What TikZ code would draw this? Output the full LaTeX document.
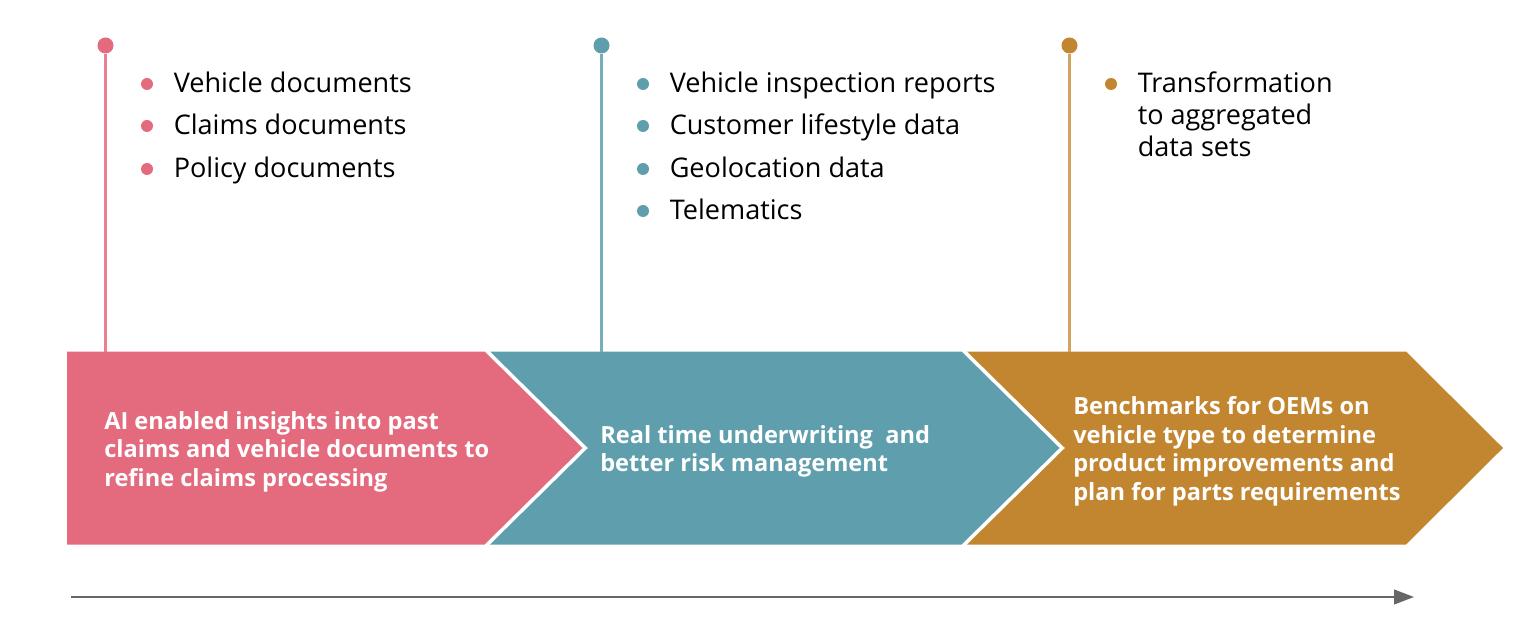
\documentclass[tikz,border=0pt]{standalone}
\usepackage{fontspec}
\setmainfont{Open Sans}
\definecolor{rosebar}{HTML}{E46A7E}
\definecolor{tealbar}{HTML}{5F9FAD}
\definecolor{goldbar}{HTML}{C28631}
\definecolor{axisgray}{HTML}{666666}
\usetikzlibrary{arrows.meta}
\begin{document}
\begin{tikzpicture}[x=0.75pt, y=-0.75pt,
	pin/.style={circle, inner sep=0pt, minimum size=12pt},
	dot/.style={circle, inner sep=0pt, minimum size=9pt},
	stem/.style={line width=2pt},
	item/.style={anchor=base west, inner sep=0pt, text=black, font=\fontsize{20.3}{24}\selectfont},
	bartext/.style={anchor=west, inner sep=0pt, align=left, text=white, font=\bfseries\fontsize{17.7}{21.4}\selectfont}]
	\useasboundingbox (0,0) rectangle (1540,634);
	% bars
	\fill[rosebar] (67,351.5) -- (484.5,351.5) -- (582.5,448) -- (484.5,544.5) -- (67,544.5) -- cycle;
	\fill[tealbar] (490,351.5) -- (961.5,351.5) -- (1059.5,448) -- (961.5,544.5) -- (490,544.5) -- (588,448) -- cycle;
	\fill[goldbar] (967,351.5) -- (1406,351.5) -- (1503,448) -- (1406,544.5) -- (967,544.5) -- (1065,448) -- cycle;
	\node[bartext] (rosetext) at (104,451.5) {AI enabled insights into past\\claims and vehicle documents to\\refine claims processing};
	\node[bartext] (tealtext) at (600,451.5) {Real time underwriting \ and\\better risk management};
	\node[bartext] (goldtext) at (1073,451.5) {Benchmarks for OEMs on\\vehicle type to determine\\product improvements and\\plan for parts requirements};
	% stems
	\coordinate (rosefoot) at (105.5,351.5);
	\coordinate (tealfoot) at (601.5,351.5);
	\coordinate (goldfoot) at (1069.5,351.5);
	\node[pin, fill=rosebar] (rosepin) at (105.5,45.5) {};
	\node[pin, fill=tealbar] (tealpin) at (601.5,45.5) {};
	\node[pin, fill=goldbar] (goldpin) at (1069.5,45.5) {};
	\draw[stem, rosebar!85!white] (rosepin) -- (rosefoot);
	\draw[stem, tealbar!85!white] (tealpin) -- (tealfoot);
	\draw[stem, goldbar!75!white] (goldpin) -- (goldfoot);
	% lists
	\foreach \name/\y/\txt in {a/93/Vehicle documents, b/135/Claims documents, c/178/Policy documents}{
		\node[dot, fill=rosebar] (rosedot\name) at (147,\y-9) {};
		\node[item] (roseitem\name) at (173.5,\y) {\txt};
	}
	\foreach \name/\y/\txt in {a/93/Vehicle inspection reports, b/135/Customer lifestyle data, c/178/Geolocation data, d/220/Telematics}{
		\node[dot, fill=tealbar] (tealdot\name) at (643,\y-9) {};
		\node[item] (tealitem\name) at (669.5,\y) {\txt};
	}
	\node[dot, fill=goldbar] (golddot) at (1111,84) {};
	\node[item, align=left, anchor=north west] (golditem) at (1137.5,72) {Transformation\\to aggregated\\data sets};
	% axis
	\coordinate (axisstart) at (71,597);
	\coordinate (axisend) at (1414,597);
	\draw[axisgray, line width=1.5pt, -{Triangle[length=15pt, width=11pt]}] (axisstart) -- (axisend);
\end{tikzpicture}
\end{document}
